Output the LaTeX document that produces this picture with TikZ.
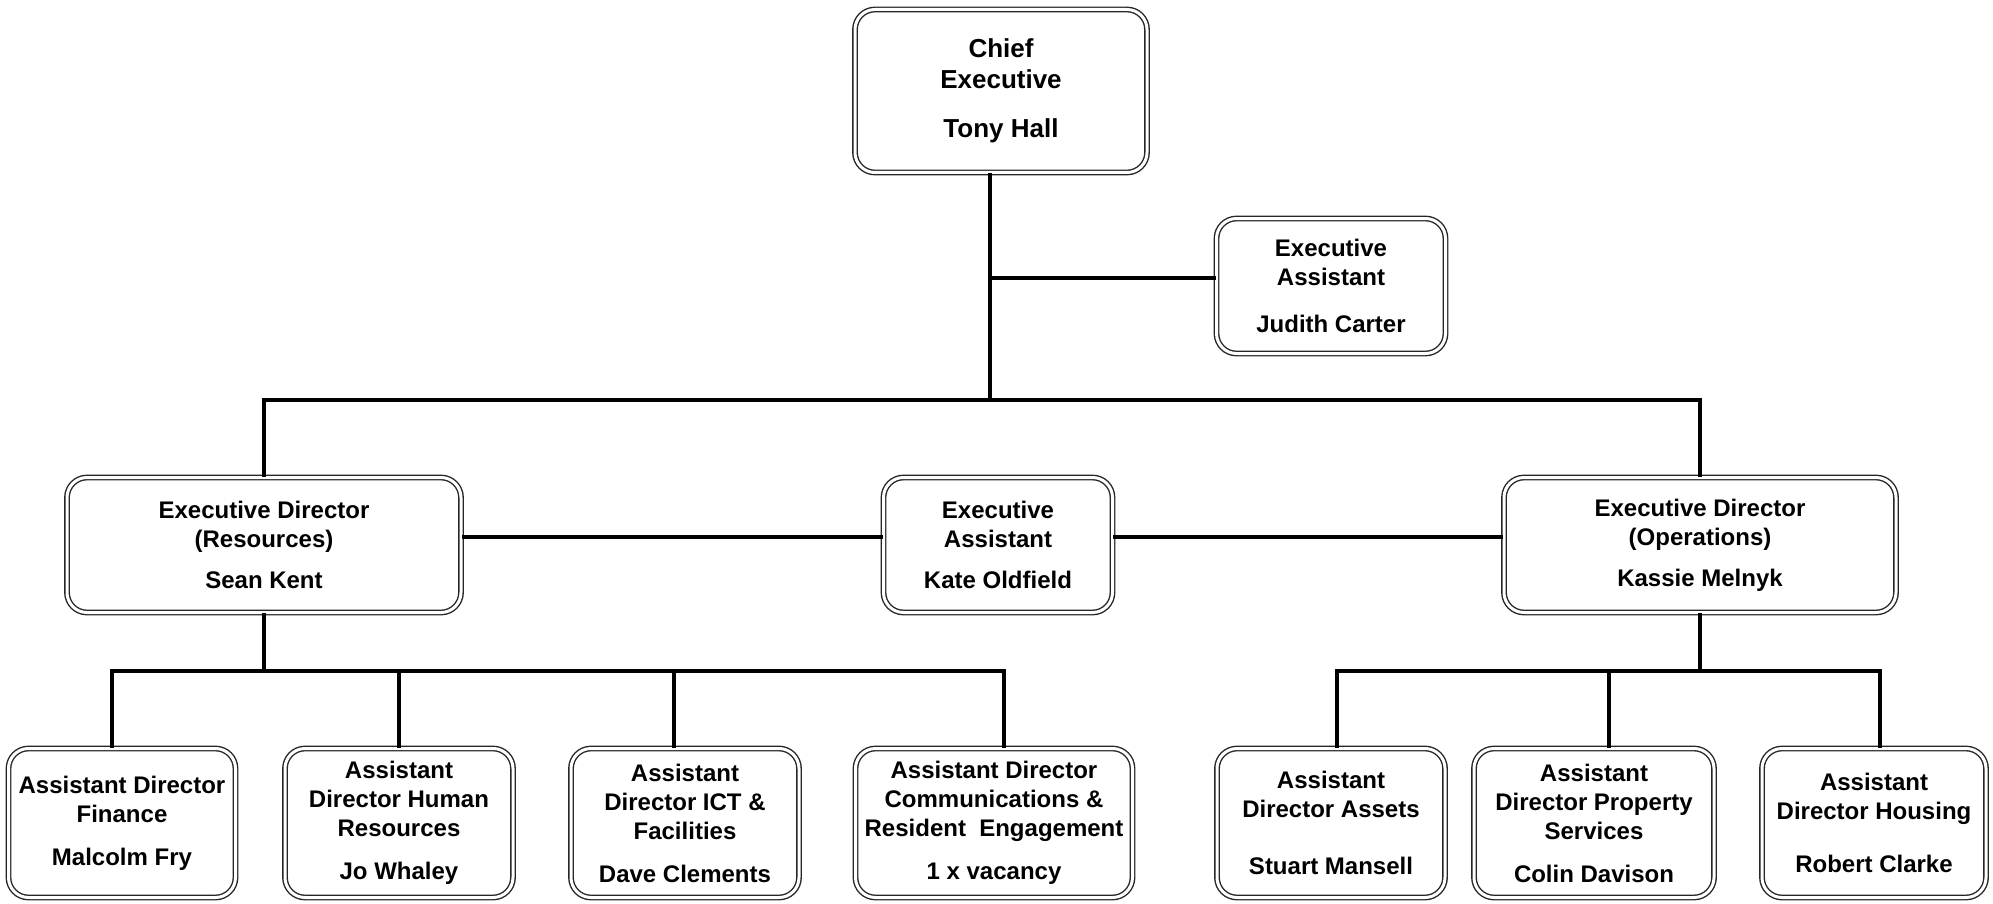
\documentclass[tikz,border=0pt]{standalone}
\usepackage{fontspec}
\setmainfont{Liberation Sans}
\usetikzlibrary{positioning}

\begin{document}
\begin{tikzpicture}[
    x=0.5pt, y=-0.5pt,
    post/.style={
      rectangle, rounded corners=10pt, draw=black!85, double, double distance=1.5pt,
      line width=0.7pt, align=center, inner sep=2pt,
      font=\fontsize{12}{14.5}\selectfont\bfseries
    },
    link/.style={line width=1.7pt, draw=black}
  ]
  \useasboundingbox (0,0) rectangle (1993,904);

  % top
  \node[post, minimum width=146pt, minimum height=81.5pt,
        font=\fontsize{13}{15.5}\selectfont\bfseries] (ceo) at (1001,91)
        {Chief\\Executive\\[9pt]Tony Hall};
  \node[post, minimum width=114.5pt, minimum height=67.5pt] (judith) at (1331,286)
        {Executive\\Assistant\\[9pt]Judith Carter};

  % executive directors
  \node[post, minimum width=197pt, minimum height=67.5pt] (edres) at (264,545)
        {Executive Director\\(Resources)\\[6pt]Sean Kent};
  \node[post, minimum width=114.5pt, minimum height=67.5pt] (kate) at (998,545)
        {Executive\\Assistant\\[6pt]Kate Oldfield};
  \node[post, minimum width=196pt, minimum height=67.5pt] (edops) at (1700,545)
        {Executive Director\\(Operations)\\[6pt]Kassie Melnyk};

  % assistant directors
  \node[post, minimum width=113.5pt, minimum height=74.5pt] (fin) at (122,823)
        {Assistant Director\\Finance\\[7pt]Malcolm Fry};
  \node[post, minimum width=114pt, minimum height=74.5pt] (hr) at (399,823)
        {Assistant\\Director Human\\Resources\\[7pt]Jo Whaley};
  \node[post, minimum width=114pt, minimum height=74.5pt] (ict) at (685,823)
        {Assistant\\Director ICT \&\\Facilities\\[7pt]Dave Clements};
  \node[post, minimum width=138.5pt, minimum height=74.5pt] (comms) at (994,823)
        {Assistant Director\\Communications \&\\Resident~ Engagement\\[7pt]1 x vacancy};
  \node[post, minimum width=114pt, minimum height=74.5pt] (assets) at (1331,823)
        {Assistant\\Director Assets\\[14pt]Stuart Mansell};
  \node[post, minimum width=120pt, minimum height=74.5pt] (prop) at (1594,823)
        {Assistant\\Director Property\\Services\\[7pt]Colin Davison};
  \node[post, minimum width=112pt, minimum height=74.5pt] (hous) at (1874,823)
        {Assistant\\Director Housing\\[12pt]Robert Clarke};

  % connectors
  \coordinate (trunk) at (990,400);
  \coordinate (resbus) at (264,671);
  \coordinate (opsbus) at (1700,671);

  \draw[link] (ceo.south -| trunk) -- (trunk);
  \draw[link] ([yshift=4pt]judith.west -| trunk) -- ([yshift=4pt]judith.west);
  \draw[link] (edres.north) |- (trunk) -| (edops.north);
  \draw[link] ([yshift=4pt]edres.east) -- ([yshift=4pt]kate.west);
  \draw[link] ([yshift=4pt]kate.east) -- ([yshift=4pt]edops.west);

  \draw[link] (edres.south) -- (resbus);
  \draw[link] ([xshift=-5pt]fin.north) |- ([xshift=5pt]comms.north |- resbus)
    -- ([xshift=5pt]comms.north);
  \foreach \c/\dx in {hr/0,ict/-5.5}
    \draw[link] ([xshift=\dx pt]\c.north) -- ([xshift=\dx pt]\c.north |- resbus);

  \draw[link] (edops.south) -- (opsbus);
  \draw[link] ([xshift=3pt]assets.north) |- ([xshift=3pt]hous.north |- opsbus)
    -- ([xshift=3pt]hous.north);
  \draw[link] ([xshift=7.5pt]prop.north) -- ([xshift=7.5pt]prop.north |- opsbus);
\end{tikzpicture}
\end{document}
